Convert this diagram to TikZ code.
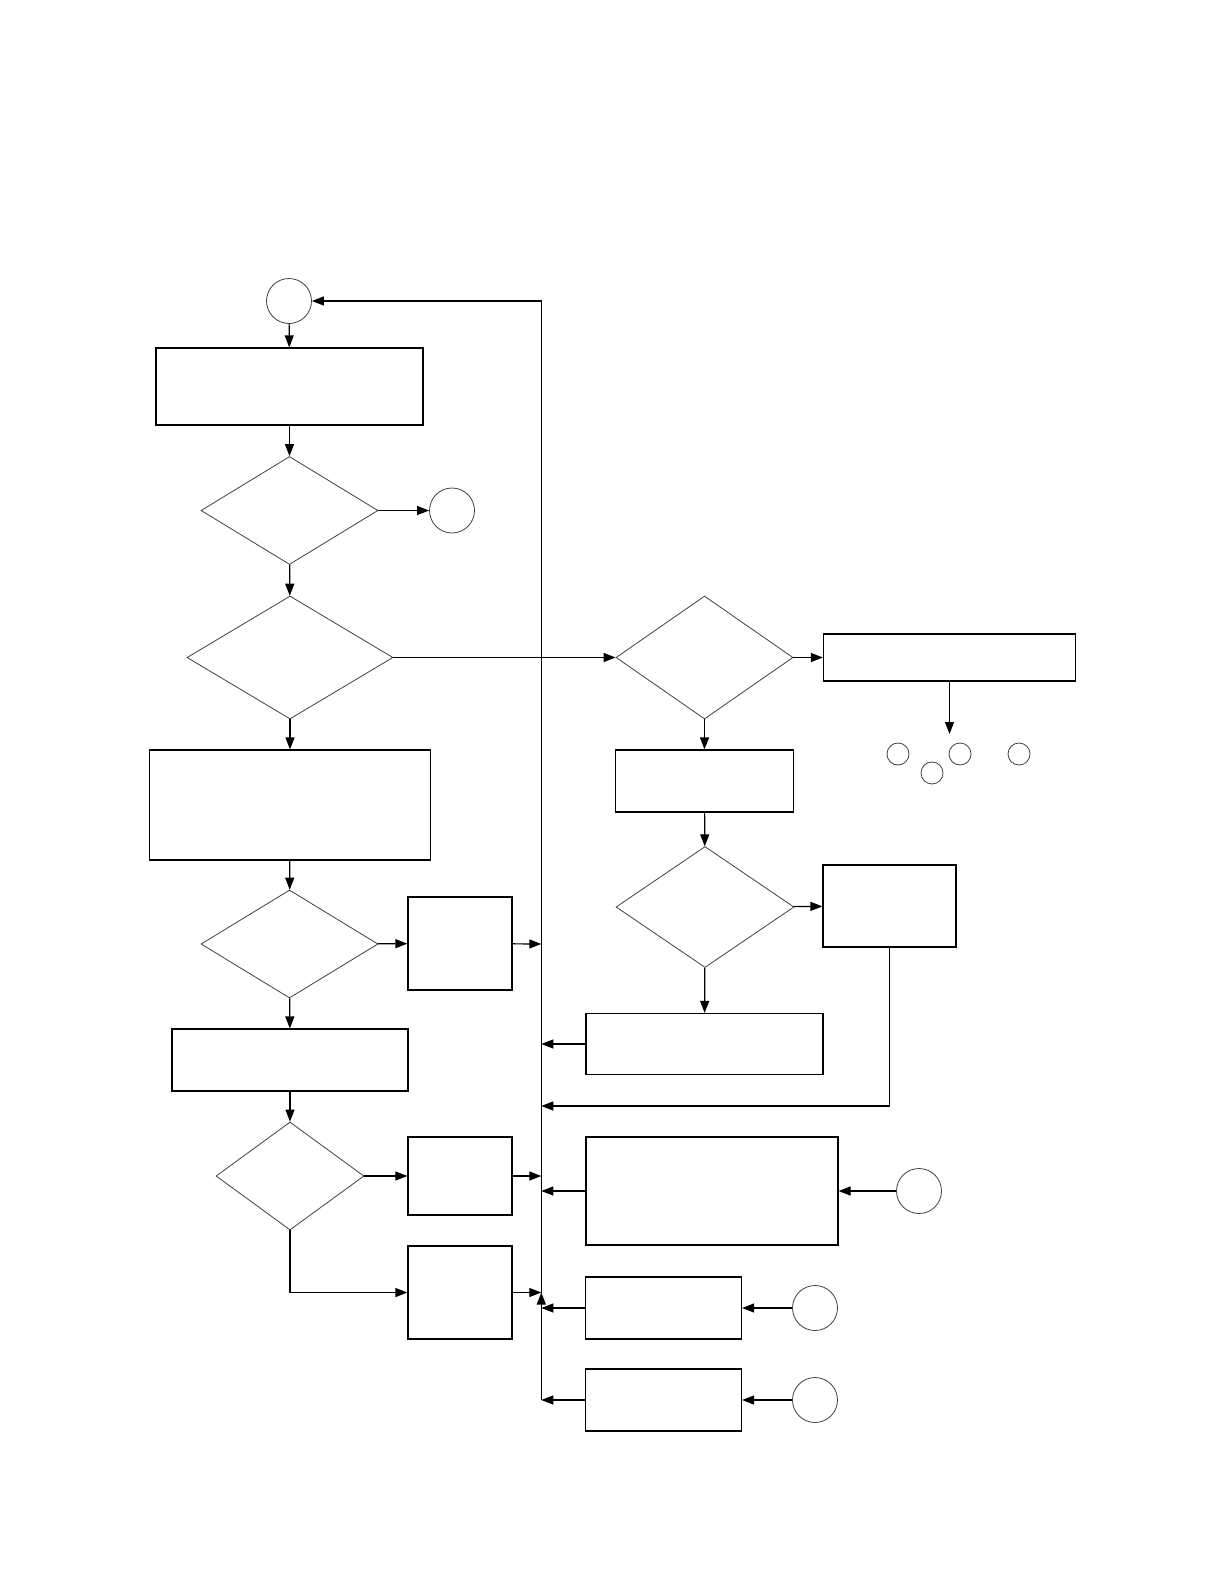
\documentclass[tikz,border=0pt]{standalone}
\usetikzlibrary{shapes.geometric,arrows.meta}

\tikzset{
	box/.style={draw=black, line width=0.6pt, inner sep=0pt},
	dia/.style={draw=black!75, line width=0.4pt, diamond, inner sep=0pt},
	conn/.style={draw=black!75, line width=0.4pt, circle, inner sep=0pt, minimum size=22.5pt},
	dot/.style={draw=black!75, line width=0.4pt, circle, inner sep=0pt, minimum size=11pt},
	arr/.style={line width=0.6pt, -{Triangle[length=6pt,width=4.5pt]}},
}

\begin{document}
\begin{tikzpicture}[x=0.5pt, y=-0.5pt]
					\useasboundingbox (0,0) rectangle (1224,1584);
					% left column
					\node[conn] at (289,301)    (c0) {};
					\node[box, minimum width=133.5pt, minimum height=38.5pt] at (289.5,386.5) (b1) {};
					\node[dia, minimum width=88.5pt, minimum height=54pt]    at (289.5,510.5) (d1) {};
					\node[conn] at (452,510.5)  (c1) {};
					\node[dia, minimum width=103pt, minimum height=61.5pt]   at (290,657.5)   (d2) {};
					\node[box, minimum width=140.5pt, minimum height=55pt]   at (290,805)     (b4) {};
					\node[dia, minimum width=88.5pt, minimum height=54pt]    at (289.5,944)   (d4) {};
					\node[box, minimum width=52pt, minimum height=46.5pt]    at (460,943.5)   (b5) {};
					\node[box, minimum width=118pt, minimum height=31pt]     at (290,1060)    (b7) {};
					\node[dia, minimum width=74pt, minimum height=54pt]      at (290,1176)    (d6) {};
					\node[box, minimum width=52pt, minimum height=39pt]      at (460,1176)    (b9) {};
					\node[box, minimum width=52pt, minimum height=46.5pt]    at (460,1292.5)  (b10) {};
					% right column
					\node[dia, minimum width=88.5pt, minimum height=61.5pt]  at (704.5,657.5) (d3) {};
					\node[box, minimum width=126pt, minimum height=23.5pt]   at (949.5,657.5) (b2) {};
					\coordinate (b2end) at (949.5,734);
					\node[dot] at (898,754)  (s1) {};
					\node[dot] at (960,754)  (s2) {};
					\node[dot] at (1019,754) (s3) {};
					\node[dot] at (932,773)  (s4) {};
					\node[box, minimum width=89pt, minimum height=31pt]      at (704.5,781)   (b3) {};
					\node[dia, minimum width=89pt, minimum height=60.5pt]    at (705,907)     (d5) {};
					\node[box, minimum width=66.5pt, minimum height=41pt]    at (889.5,906)   (b6) {};
					\node[box, minimum width=118.5pt, minimum height=30.5pt] at (704.5,1044)  (b8) {};
					\node[box, minimum width=126pt, minimum height=54pt]     at (712,1191)    (b11) {};
					\node[conn] at (919,1191) (c2) {};
					\node[box, minimum width=78pt, minimum height=31pt]      at (663.5,1308)  (b12) {};
					\node[conn] at (815,1308) (c3) {};
					\node[box, minimum width=78pt, minimum height=31pt]      at (663.5,1400)  (b13) {};
					\node[conn] at (815,1400) (c4) {};
					% return line
					\coordinate (bus0) at (541.3,1400);
					\coordinate (busj) at (541.3,1292.5);
					\coordinate (bus1) at (541.3,944);
					\coordinate (bus2) at (541.3,1044);
					\coordinate (bus3) at (541.3,1106);
					\coordinate (bus4) at (541.3,1176);
					\coordinate (bus5) at (541.3,1191);
					\coordinate (bus6) at (541.3,1308);
					\coordinate (b6turn) at (889.5,1106);

					\draw[arr] (c0) -- (b1);
					\draw[arr] (b1) -- (d1);
					\draw[arr] (d1) -- (c1);
					\draw[arr] (d1) -- (d2);
					\draw[arr] (d2) -- (d3);
					\draw[arr] (d2) -- (b4);
					\draw[arr] (b4) -- (d4);
					\draw[arr] (d4) -- (b5);
					\draw[arr] (d4) -- (b7);
					\draw[arr] (b7) -- (d6);
					\draw[arr] (d6) -- (b9);
					\draw[arr] (d6.south) |- (b10.west);
					\draw[arr] (d3) -- (b2);
					\draw[arr] (b2) -- (b2end);
					\draw[arr] (d3) -- (b3);
					\draw[arr] (b3) -- (d5);
					\draw[arr] (d5) -- (b6);
					\draw[arr] (d5) -- (b8);
					\draw[arr] (c2) -- (b11);
					\draw[arr] (c3) -- (b12);
					\draw[arr] (c4) -- (b13);
					\draw[arr] (b5) -- (bus1);
					\draw[arr] (b9) -- (bus4);
					\draw[arr] (b10) -- (busj);
					\draw[arr] (b8) -- (bus2);
					\draw[arr] (b6.south) -- (b6turn) -- (bus3);
					\draw[arr] (b11) -- (bus5);
					\draw[arr] (b12) -- (bus6);
					\draw[arr] (b13) -- (bus0);
					\draw[arr] (bus0) -- (busj);
					\draw[arr] (busj) |- (c0);
				\end{tikzpicture}
\end{document}
